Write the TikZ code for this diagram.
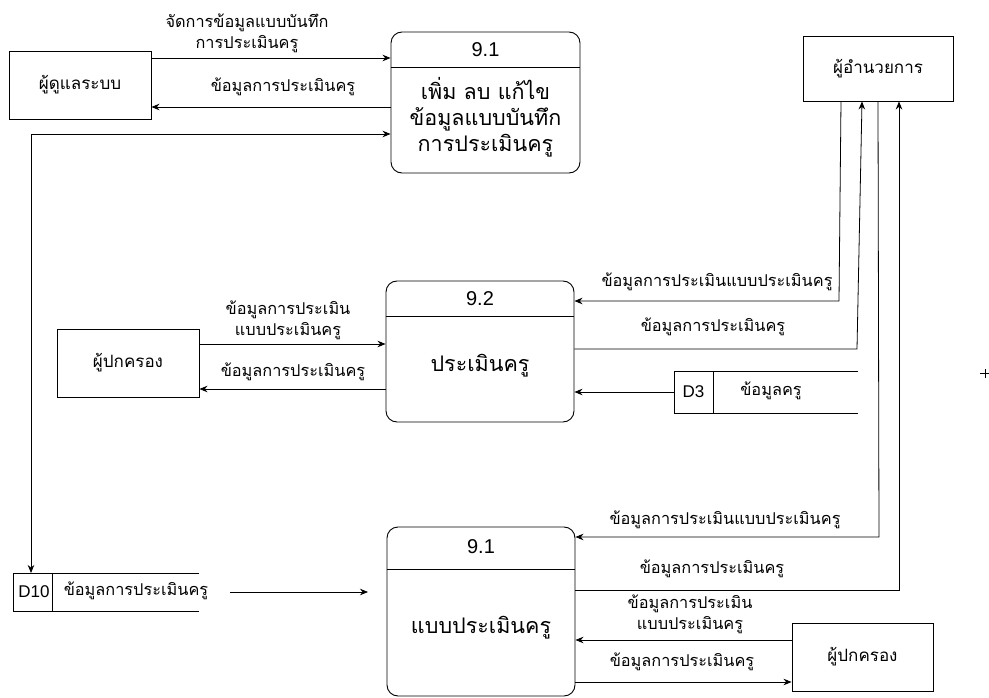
\documentclass[tikz,border=0pt]{standalone}
\usepackage{fontspec}
\setmainfont{Liberation Sans}
\newfontfamily\thai[Script=Thai]{Loma}
\usetikzlibrary{arrows.meta}
\tikzset{
  ent/.style={draw, line width=0.9pt, inner sep=0pt, font=\thai\fontsize{17}{20}\selectfont},
  proc/.style={draw, rounded corners=11pt, line width=0.9pt, inner sep=0pt},
  ptitle/.style={font=\fontsize{20}{24}\selectfont, inner sep=0pt},
  pbody/.style={font=\thai\fontsize{21.5}{26}\selectfont, align=center, inner sep=0pt},
  lbl/.style={font=\thai\fontsize{16.3}{21}\selectfont, align=center, inner sep=0pt},
  storetxt/.style={font=\fontsize{17}{20}\selectfont, inner sep=0pt, minimum width=39pt, minimum height=40pt},
  flow/.style={-{Stealth[length=8pt,width=6.5pt]}, line width=0.8pt},
  line/.style={line width=0.8pt}
}
\begin{document}
\begin{tikzpicture}[x=1pt,y=-1pt]
\useasboundingbox (0,0) rectangle (989,698);
% entities
\node[ent, minimum width=142pt, minimum height=68pt] (admin) at (80,85) {ผู้ดูแลระบบ};
\node[ent, minimum width=150pt, minimum height=65pt] (dir) at (878,68.5) {ผู้อำนวยการ};
\node[ent, minimum width=142pt, minimum height=68pt] (par1) at (128,363) {ผู้ปกครอง};
\node[ent, minimum width=141pt, minimum height=68pt] (par2) at (862.5,657) {ผู้ปกครอง};
% processes
\node[proc, minimum width=189pt, minimum height=141pt] (p1) at (485.5,102.5) {};
\draw[line] (p1.west |- 0,67) -- (p1.east |- 0,67);
\node[ptitle] (p1t) at (485.5,50) {9.1};
\node[pbody] (p1b) at (485.5,117) {เพิ่ม ลบ แก้ไข\\ข้อมูลแบบบันทึก\\การประเมินครู};
\node[proc, minimum width=188pt, minimum height=141pt] (p2) at (480,351.5) {};
\draw[line] (p2.west |- 0,316) -- (p2.east |- 0,316);
\node[ptitle] (p2t) at (480,299) {9.2};
\node[pbody] (p2b) at (480,366) {ประเมินครู};
\node[proc, minimum width=188pt, minimum height=169pt] (p3) at (481,611.5) {};
\draw[line] (p3.west |- 0,569) -- (p3.east |- 0,569);
\node[ptitle] (p3t) at (481,547) {9.1};
\node[pbody] (p3b) at (481,628) {แบบประเมินครู};
% data stores
\node[storetxt, minimum height=42pt] (d3) at (693.5,392) {D3};
\draw[line] (858,371) -- (674,371) -- (674,413) -- (858,413);
\draw[line] (713,371) -- (713,413);
\node[lbl] (d3l) at (771,391) {ข้อมูลครู};
\node[storetxt, minimum height=38pt] (d10) at (34,592) {D10};
\draw[line] (199,573) -- (13,573) -- (13,611) -- (199,611);
\draw[line] (52,573) -- (52,611);
\node[lbl] (d10l) at (136,591) {ข้อมูลการประเมินครู};
% flows top
\draw[flow] (admin.east |- 0,58) -- (p1.west |- 0,58);
\node[lbl] at (247,33) {จัดการข้อมูลแบบบันทึก\\การประเมินครู};
\draw[flow] (p1.west |- 0,107) -- (admin.east |- 0,107);
\node[lbl] at (283,87) {ข้อมูลการประเมินครู};
\draw[{Stealth[length=8pt,width=6.5pt]}-{Stealth[length=8pt,width=6.5pt]}, line width=0.8pt] (p1.west |- 0,134) -| (31,573);
% flows middle
\draw[flow] (par1.east |- 0,344) -- (p2.west |- 0,344);
\node[lbl] at (288,320) {ข้อมูลการประเมิน\\แบบประเมินครู};
\draw[flow] (p2.west |- 0,389) -- (par1.east |- 0,389);
\node[lbl] at (293,372) {ข้อมูลการประเมินครู};
\draw[flow] (dir.south -| 841,0) -- (839,301) -- (p2.east |- 0,301);
\node[lbl] at (717,282) {ข้อมูลการประเมินแบบประเมินครู};
\draw[flow] (p2.east |- 0,349) -- (857,349) -- (dir.south -| 862,0);
\node[lbl] at (713,327) {ข้อมูลการประเมินครู};
\draw[flow] (d3.west) -- (p2.east |- d3.west);
% flows bottom
\draw[flow] (dir.south -| 878,0) -- (879,537) -- (p3.east |- 0,537);
\node[lbl] at (725,520) {ข้อมูลการประเมินแบบประเมินครู};
\draw[flow] (p3.east |- 0,590) -- (899,590) -- (dir.south -| 899,0);
\node[lbl] at (712,569) {ข้อมูลการประเมินครู};
\draw[flow] (par2.west |- 0,640) -- (p3.east |- 0,640);
\node[lbl] at (690,614) {ข้อมูลการประเมิน\\แบบประเมินครู};
\draw[flow] (p3.east |- 0,682) -- (par2.west |- 0,682);
\node[lbl] at (682,662) {ข้อมูลการประเมินครู};
\coordinate (fa) at (230,592);
\coordinate (fb) at (368,592);
\draw[flow] (fa) -- (fb);
% stray mark
\draw[line] (980,373) -- (989,373) (985,369) -- (985,378);
\end{tikzpicture}
\end{document}
